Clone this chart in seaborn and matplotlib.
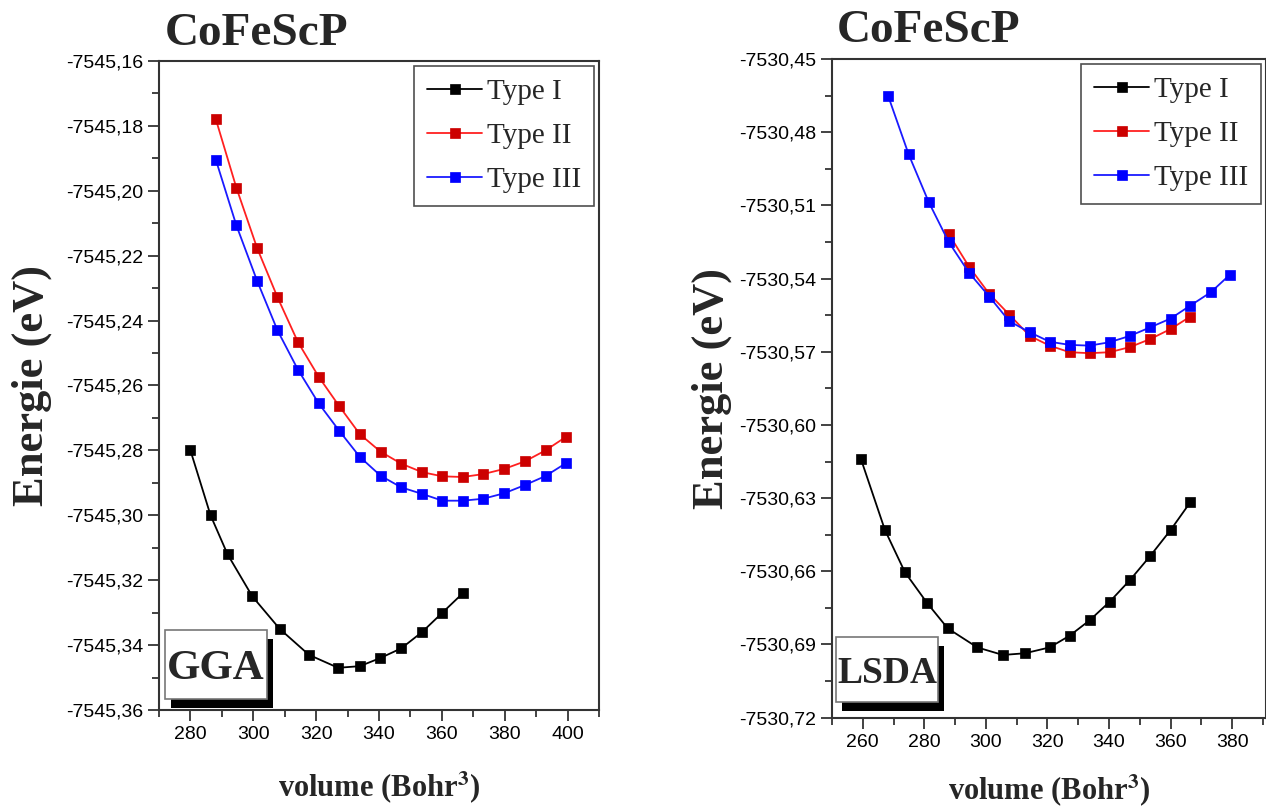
import matplotlib
matplotlib.use("Agg")
import matplotlib.pyplot as plt
from matplotlib.patches import Rectangle
from matplotlib.ticker import AutoMinorLocator
import seaborn as sns

# ---------------- data ----------------
# GGA panel
gga_x1 = [280.0, 286.4, 291.8, 299.7, 308.4, 317.7, 327.0, 333.9, 340.4, 347.1, 353.7, 360.2, 366.7]
gga_e1 = [-7545.280, -7545.300, -7545.312, -7545.325, -7545.335, -7545.343, -7545.347,
          -7545.3465, -7545.344, -7545.341, -7545.336, -7545.330, -7545.324]
gga_x23 = [288.1, 294.6, 301.2, 307.7, 314.2, 320.8, 327.3, 333.9, 340.5, 347.1, 353.7,
           360.2, 366.7, 373.2, 379.9, 386.4, 393.0, 399.4]
gga_e2 = [-7545.178, -7545.199, -7545.2176, -7545.2328, -7545.2466, -7545.2573, -7545.2663,
          -7545.275, -7545.2804, -7545.2841, -7545.2867, -7545.288, -7545.2882, -7545.2873,
          -7545.2857, -7545.2834, -7545.280, -7545.2759]
gga_e3 = [-7545.1905, -7545.2106, -7545.2277, -7545.2430, -7545.2551, -7545.2655, -7545.2739,
          -7545.282, -7545.2878, -7545.2914, -7545.2934, -7545.2955, -7545.2955, -7545.2949,
          -7545.2932, -7545.2907, -7545.2879, -7545.284]

# LSDA panel
lsda_x1 = [259.4, 267.2, 273.7, 280.9, 287.6, 297.2, 305.5, 312.7, 320.7, 327.2, 333.7,
           340.2, 346.8, 353.4, 360.0, 366.4]
lsda_e1 = [-7530.614, -7530.6431, -7530.6604, -7530.673, -7530.6834, -7530.6912, -7530.6943,
           -7530.6936, -7530.6912, -7530.6864, -7530.6801, -7530.6725, -7530.6636, -7530.6537,
           -7530.6431, -7530.6317]
lsda_x2 = [287.9, 294.5, 301.1, 307.6, 314.2, 320.7, 327.2, 333.7, 340.2, 346.8, 353.4, 360.0, 366.4]
lsda_e2 = [-7530.5217, -7530.5351, -7530.5463, -7530.5548, -7530.5635, -7530.5675, -7530.5702,
           -7530.5706, -7530.5702, -7530.5681, -7530.5648, -7530.5607, -7530.5556]
lsda_x3 = [268.2, 274.9, 281.4, 287.9, 294.5, 301.1, 307.6, 314.2, 320.7, 327.2, 333.7, 340.2,
           346.8, 353.4, 360.0, 366.4, 373.1, 379.2]
lsda_e3 = [-7530.465, -7530.4891, -7530.5086, -7530.525, -7530.5376, -7530.5474, -7530.5575,
           -7530.562, -7530.5659, -7530.5672, -7530.5675, -7530.5661, -7530.5635, -7530.560,
           -7530.5564, -7530.5511, -7530.5456, -7530.5385]

series_names = ["Type I", "Type II", "Type III"]
title_text = "CoFeScP"
xlabel_text = r"volume (Bohr$^{\mathbf{3}}$)"
ylabel_text = "Energie (eV)"

gga_yticks = [-7545.36, -7545.34, -7545.32, -7545.30, -7545.28, -7545.26, -7545.24,
              -7545.22, -7545.20, -7545.18, -7545.16]
lsda_yticks = [-7530.72, -7530.69, -7530.66, -7530.63, -7530.60, -7530.57, -7530.54,
               -7530.51, -7530.48, -7530.45]
gga_xticks = [280, 300, 320, 340, 360, 380, 400]
lsda_xticks = [260, 280, 300, 320, 340, 360, 380]

# ---------------- style ----------------
sns.set_style("white")
plt.rcParams["font.family"] = ["Liberation Sans", "DejaVu Sans"]
plt.rcParams["mathtext.fontset"] = "stix"
SERIF = ["Liberation Serif", "DejaVu Serif"]

fig = plt.figure(figsize=(12.66, 8.09), dpi=100)
axL = fig.add_axes([0.1256, 0.1224, 0.3475, 0.8022])
axR = fig.add_axes([0.6572, 0.1129, 0.3428, 0.8142])

styles = [
    dict(color="black", mfc="black", mec="black"),
    dict(color="#ff2020", mfc="#cc0000", mec="#cc0000"),
    dict(color="#1a1aff", mfc="#0000ff", mec="#0000ff"),
]


def draw(ax, xs, es, xlim, yticks, xticks, box_text, box_size, box_rect, ylab_x, xlab_y):
    for x, e, name, st in zip(xs, es, series_names, styles):
        sns.lineplot(x=x, y=e, ax=ax, color=st["color"], marker="s", markersize=7,
                     markerfacecolor=st["mfc"], markeredgecolor=st["mec"],
                     markeredgewidth=0.5, linewidth=1.3, label=name, legend=False)
    ax.set_xlim(*xlim)
    ax.set_ylim(yticks[0], yticks[-1])
    ax.set_yticks(yticks)
    ax.set_yticklabels([("%.2f" % v).replace(".", ",") for v in yticks])
    ax.set_xticks(xticks)
    ax.set_xticklabels([str(v) for v in xticks])
    ax.xaxis.set_minor_locator(AutoMinorLocator(2))
    ax.yaxis.set_minor_locator(AutoMinorLocator(2))
    ax.tick_params(which="major", direction="out", length=8, width=1.2, labelsize=14,
                   colors="#222222", labelcolor="black", bottom=True, left=True)
    ax.tick_params(which="minor", direction="out", length=5, width=1.2, colors="#222222",
                   bottom=True, left=True)
    for s in ax.spines.values():
        s.set_color("#333333")
        s.set_linewidth(1.5)
    ax.set_xlabel(xlabel_text, family=SERIF, fontweight="bold", fontsize=22)
    ax.xaxis.set_label_coords(0.5, xlab_y)
    ax.set_ylabel(ylabel_text, family=SERIF, fontweight="bold", fontsize=32)
    ax.yaxis.set_label_coords(ylab_x, 0.5)
    ax.text(0.012, 1.01, title_text, transform=ax.transAxes, family=SERIF,
            fontweight="bold", fontsize=34, ha="left", va="bottom")
    leg = ax.legend(loc="upper right", frameon=True, fancybox=False, shadow=False,
                    prop=dict(family=SERIF, size=21), handlelength=1.9, handletextpad=0.15,
                    borderpad=0.45, labelspacing=0.6, borderaxespad=0.17)
    leg.get_frame().set_edgecolor("#222222")
    leg.get_frame().set_linewidth(1.2)
    # label box with drop shadow
    x0, y0, w, h, dx, dy = box_rect
    ax.add_patch(Rectangle((x0 + dx, y0 + dy), w, h, transform=ax.transAxes,
                           facecolor="black", edgecolor="none", zorder=5))
    ax.add_patch(Rectangle((x0, y0), w, h, transform=ax.transAxes,
                           facecolor="white", edgecolor="#777777", lw=1.2, zorder=6))
    ax.text(x0 + w / 2, y0 + h / 2, box_text, transform=ax.transAxes, family=SERIF,
            fontweight="bold", fontsize=box_size, ha="center", va="center_baseline",
            zorder=7)


draw(axL, [gga_x1, gga_x23, gga_x23], [gga_e1, gga_e2, gga_e3], (270, 410),
     gga_yticks, gga_xticks, "GGA", 31,
     (0.0136, 0.017, 0.232, 0.106, 0.0136, -0.0139), -0.243, -0.0925)
draw(axR, [lsda_x1, lsda_x2, lsda_x3], [lsda_e1, lsda_e2, lsda_e3], (250, 391),
     lsda_yticks, lsda_xticks, "LSDA", 27,
     (0.0092, 0.0238, 0.235, 0.0987, 0.0138, -0.0137), -0.231, -0.084)

fig.savefig("out.png", dpi=100)
